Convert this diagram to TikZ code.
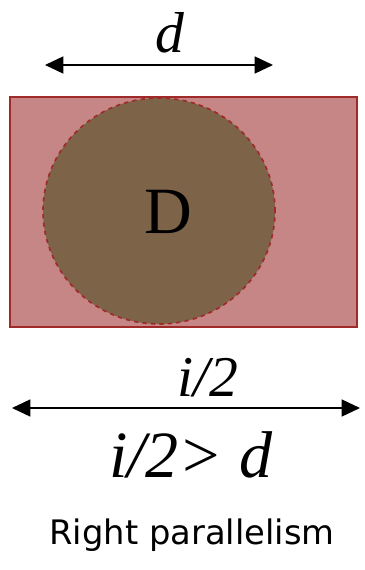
\documentclass[tikz,border=0pt]{standalone}
\usepackage{fontspec}
\usepackage{tikz}
\usetikzlibrary{arrows.meta,shapes.geometric}
\setmainfont{Liberation Serif}
\newfontfamily\capfont{DejaVu Sans}
\definecolor{platecolor}{HTML}{C68686}
\definecolor{discolor}{HTML}{7D6448}
\definecolor{edgecolor}{HTML}{A02A2A}

\begin{document}
\begin{tikzpicture}[
    x=0.025cm, y=-0.025cm,
    dimarrow/.style={{Triangle[length=13pt, width=12pt]}-{Triangle[length=13pt, width=12pt]}, line width=1.3pt},
    every node/.style={inner sep=0pt}
]
\useasboundingbox (0,0) rectangle (365,570);
\node (plate) [draw=edgecolor, line width=1.2pt, fill=platecolor,
               minimum width=347*0.025cm, minimum height=230*0.025cm] at (183.5,212) {};
\node (disc) [ellipse, draw=edgecolor, line width=1.2pt, dashed, fill=discolor,
              minimum width=232*0.025cm, minimum height=226*0.025cm] at (159,211) {};
\node (dname) at (168,212) {\fontsize{47}{47}\selectfont D};
% top dimension
\coordinate (dl) at (45,65);
\coordinate (dr) at (273,65);
\draw[dimarrow] (dl) -- (dr);
\node (dlabel) at (170,33) {\fontsize{41}{41}\selectfont\itshape d};
% bottom dimension
\coordinate (il) at (12,408);
\coordinate (ir) at (360,408);
\draw[dimarrow] (il) -- (ir);
\node (ilabel) at (208,378) {\fontsize{41}{41}\selectfont\itshape i/2};
\node (cond) at (191,455) {\fontsize{47}{47}\selectfont\itshape i/2> d};
\node (caption) at (192,535) {\capfont\fontsize{24}{24}\selectfont Right parallelism};
\end{tikzpicture}
\end{document}
